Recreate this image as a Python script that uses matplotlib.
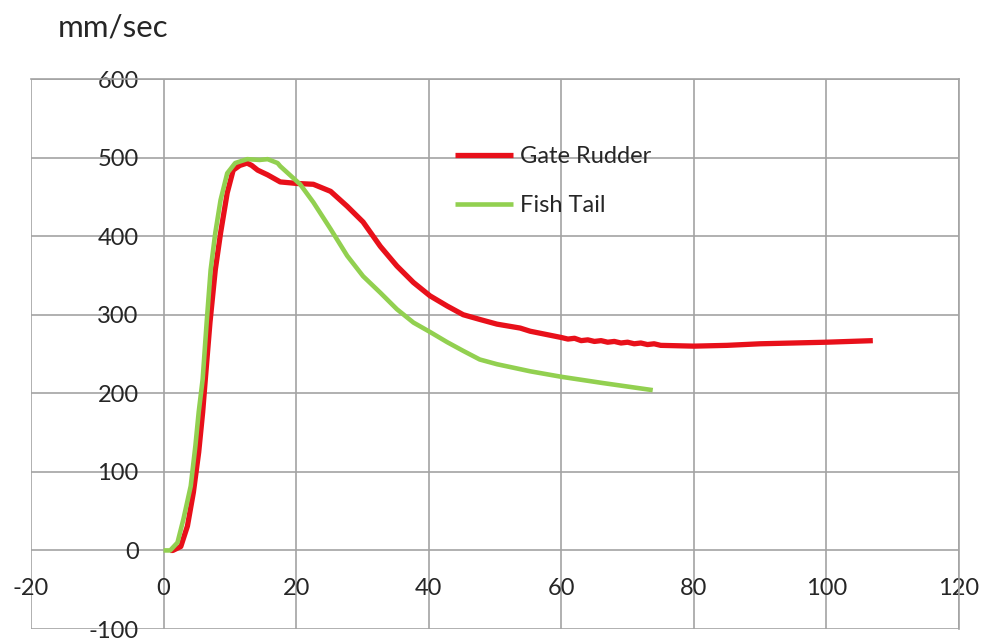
import matplotlib
matplotlib.use("Agg")
from matplotlib import pyplot as plt

# ---- data ----
gate_t = [1.0, 1.4, 2.6, 3.6, 4.5, 5.3, 5.9, 6.3, 7.0, 7.8, 8.6, 9.6, 10.5, 11.5,
          12.6, 13.3, 14.2, 15.7, 17.6, 20.2, 22.6, 25.2, 27.7, 30.1, 32.7, 35.2,
          37.7, 40.2, 42.8, 45.2, 47.7, 50.3, 53.8, 55.3, 60, 61, 62, 63, 64, 65,
          66, 67, 68, 69, 70, 71, 72, 73, 74, 75, 80, 85, 90, 95, 100, 107]
gate_v = [0, 0, 5, 31, 74, 125, 176, 218, 290, 357, 404, 455, 484, 490,
          493, 490, 484, 478, 469, 467, 466, 457, 438, 418, 387, 362,
          341, 324, 311, 300, 294, 288, 283, 279, 271, 269, 270, 267, 268, 266,
          267, 265, 266, 264, 265, 263, 264, 262, 263, 261, 260, 261, 263, 264, 265, 267]

fish_t = [0, 1.0, 2.1, 3.0, 4.1, 4.8, 5.3, 5.9, 6.5, 7.1, 7.8, 8.6, 9.6, 10.8,
          12.6, 14.5, 15.7, 17.2, 17.6, 20.6, 22.6, 25.2, 27.7, 30.1, 32.7, 35.2,
          37.7, 40.2, 42.8, 45.2, 47.7, 50.3, 55.3, 60, 66.3, 73.8]
fish_v = [0, 0, 10, 40, 82, 133, 176, 218, 290, 357, 404, 446, 480, 493,
          498, 497, 498, 493, 489, 466, 443, 409, 375, 349, 328, 307,
          290, 278, 265, 254, 243, 237, 228, 221, 213, 204]

xticks = [-20, 0, 20, 40, 60, 80, 100, 120]
yticks = [-100, 0, 100, 200, 300, 400, 500, 600]

plt.rcParams["font.family"] = ["Lato", "DejaVu Sans"]
plt.rcParams["axes.unicode_minus"] = False

W, H = 989, 638
fig = plt.figure(figsize=(W / 100, H / 100), dpi=100)
ax = fig.add_axes([31 / W, 9 / H, 928 / W, 550 / H])

grid_c = "#a3a3a3"
ax.plot(gate_t, gate_v, color="#e8101a", lw=3.8, label="Gate Rudder", zorder=3,
        solid_capstyle="butt", solid_joinstyle="round")
ax.plot(fish_t, fish_v, color="#92d050", lw=3.3, label="Fish Tail", zorder=4,
        solid_capstyle="butt", solid_joinstyle="round")

ax.set_xlim(-20, 120)
ax.set_ylim(-100, 600)
ax.set_xticks(xticks)
ax.set_yticks(yticks)
ax.grid(True, color=grid_c, lw=1.2)
ax.set_axisbelow(True)

ax.spines["left"].set_position(("data", 0))
ax.spines["bottom"].set_position(("data", 0))
for s in ax.spines.values():
    s.set_color(grid_c)
    s.set_linewidth(1.2)
ax.spines["left"].set_visible(False)
ax.spines["bottom"].set_visible(False)

ax.tick_params(axis="y", length=0, pad=18, labelsize=17, labelcolor="#262626")
ax.tick_params(axis="x", length=0, pad=20, labelsize=17, labelcolor="#262626")

fig.text(58 / W, 1 - 27 / H, "mm/sec", fontsize=22.5, color="#262626",
         ha="left", va="center")

ax.legend(loc="upper left", bbox_to_anchor=(455 / W, 1 - 146 / H),
          bbox_transform=fig.transFigure, frameon=False, fontsize=17,
          handlelength=2.45, handletextpad=0.3, labelspacing=1.2,
          borderpad=0, borderaxespad=0, labelcolor="#262626")

fig.savefig("out.png", dpi=100)
